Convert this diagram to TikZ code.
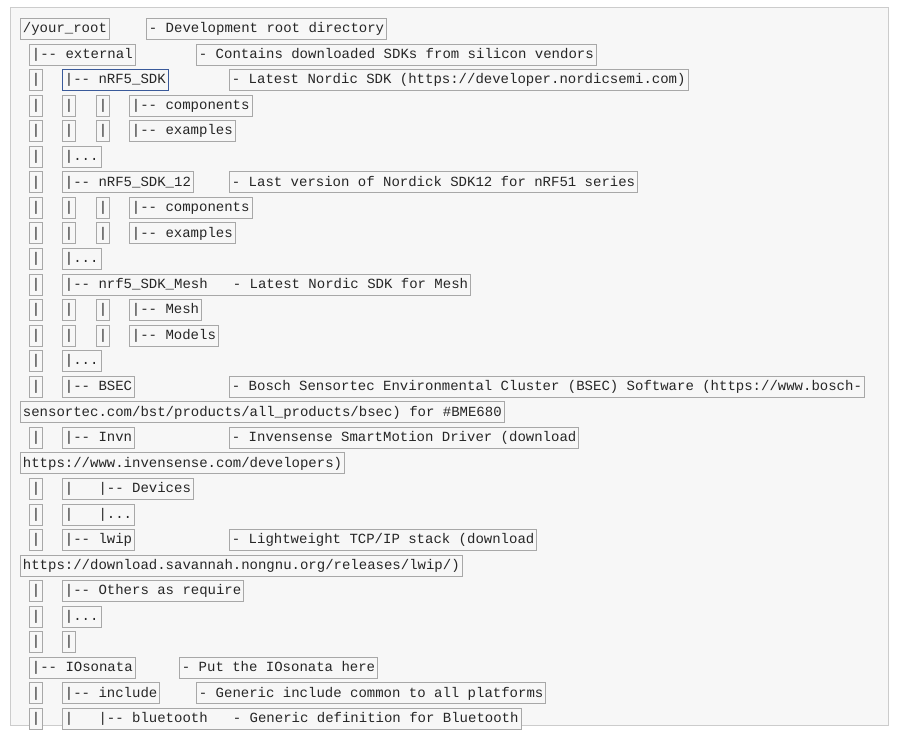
\documentclass[tikz,border=0pt]{standalone}
\usepackage{fontspec}
\newfontfamily\mono{Liberation Mono}
\definecolor{panel}{HTML}{F7F7F7}
\definecolor{bx}{HTML}{A8A8A8}
\definecolor{blu}{HTML}{3A5A9A}
\tikzset{t/.style={draw=bx,line width=0.8pt,fill=panel,anchor=west,inner xsep=2.5pt,inner ysep=0pt,
  minimum height=21pt,font=\mono\fontsize{14}{15}\selectfont,text=black!85,text height=10.5pt,text depth=3pt}}
\newcommand\D{-{}-}
\begin{document}
\begin{tikzpicture}[x=1pt,y=-1pt]
\useasboundingbox (0,0) rectangle (900,738);
\fill[white] (0,0) rectangle (900,738);
\draw[draw=black!20,fill=panel] (10,7) rectangle (888,725);
\def\r#1{\fpeval{29+25.55*(#1-1)}}
\node[t] (a1) at (20,\r1) {/your\_root};
\node[t] (b1) at (146,\r1) {- Development root directory};
\node[t] (a2) at (29,\r2) {|\D{} external};
\node[t] (b2) at (196,\r2) {- Contains downloaded SDKs from silicon vendors};
\node[t] (a3) at (29,\r3) {|};
\node[t,draw=blu] (c3) at (62,\r3) {|\D{} nRF5\_SDK};
\node[t] (b3) at (229,\r3) {- Latest Nordic SDK (https://developer.nordicsemi.com)};
\foreach \k/\w in {4/components,5/examples,8/components,9/examples,12/Mesh,13/Models}{
  \node[t] (a\k) at (29,\r\k) {|};
  \node[t] (c\k) at (62,\r\k) {|};
  \node[t] (d\k) at (96,\r\k) {|};
  \node[t] (e\k) at (129,\r\k) {|\D{} \w};
}
\foreach \k in {6,10,14,24}{
  \node[t] (a\k) at (29,\r\k) {|};
  \node[t] (c\k) at (62,\r\k) {|...};
}
\node[t] (a7) at (29,\r7) {|};
\node[t] (c7) at (62,\r7) {|\D{} nRF5\_SDK\_12};
\node[t] (b7) at (229,\r7) {- Last version of Nordick SDK12 for nRF51 series};
\node[t] (a11) at (29,\r{11}) {|};
\node[t] (c11) at (62,\r{11}) {|\D{} nrf5\_SDK\_Mesh~~~- Latest Nordic SDK for Mesh};
\node[t] (a15) at (29,\r{15}) {|};
\node[t] (c15) at (62,\r{15}) {|\D{} BSEC};
\node[t] (b15) at (229,\r{15}) {- Bosch Sensortec Environmental Cluster (BSEC) Software (https://www.bosch-};
\node[t] (a16) at (20,\r{16}) {sensortec.com/bst/products/all\_products/bsec) for \#BME680};
\node[t] (a17) at (29,\r{17}) {|};
\node[t] (c17) at (62,\r{17}) {|\D{} Invn};
\node[t] (b17) at (229,\r{17}) {- Invensense SmartMotion Driver (download};
\node[t] (a18) at (20,\r{18}) {https://www.invensense.com/developers)};
\node[t] (a19) at (29,\r{19}) {|};
\node[t] (c19) at (62,\r{19}) {|~~~|\D{} Devices};
\node[t] (a20) at (29,\r{20}) {|};
\node[t] (c20) at (62,\r{20}) {|~~~|...};
\node[t] (a21) at (29,\r{21}) {|};
\node[t] (c21) at (62,\r{21}) {|\D{} lwip};
\node[t] (b21) at (229,\r{21}) {- Lightweight TCP/IP stack (download};
\node[t] (a22) at (20,\r{22}) {https://download.savannah.nongnu.org/releases/lwip/)};
\node[t] (a23) at (29,\r{23}) {|};
\node[t] (c23) at (62,\r{23}) {|\D{} Others as require};
\node[t] (a25) at (29,\r{25}) {|};
\node[t] (c25) at (62,\r{25}) {|};
\node[t] (a26) at (29,\r{26}) {|\D{} IOsonata};
\node[t] (b26) at (179,\r{26}) {- Put the IOsonata here};
\node[t] (a27) at (29,\r{27}) {|};
\node[t] (c27) at (62,\r{27}) {|\D{} include};
\node[t] (b27) at (196,\r{27}) {- Generic include common to all platforms};
\node[t] (a28) at (29,\r{28}) {|};
\node[t] (c28) at (62,\r{28}) {|~~~|\D{} bluetooth~~~- Generic definition for Bluetooth};
\end{tikzpicture}
\end{document}
